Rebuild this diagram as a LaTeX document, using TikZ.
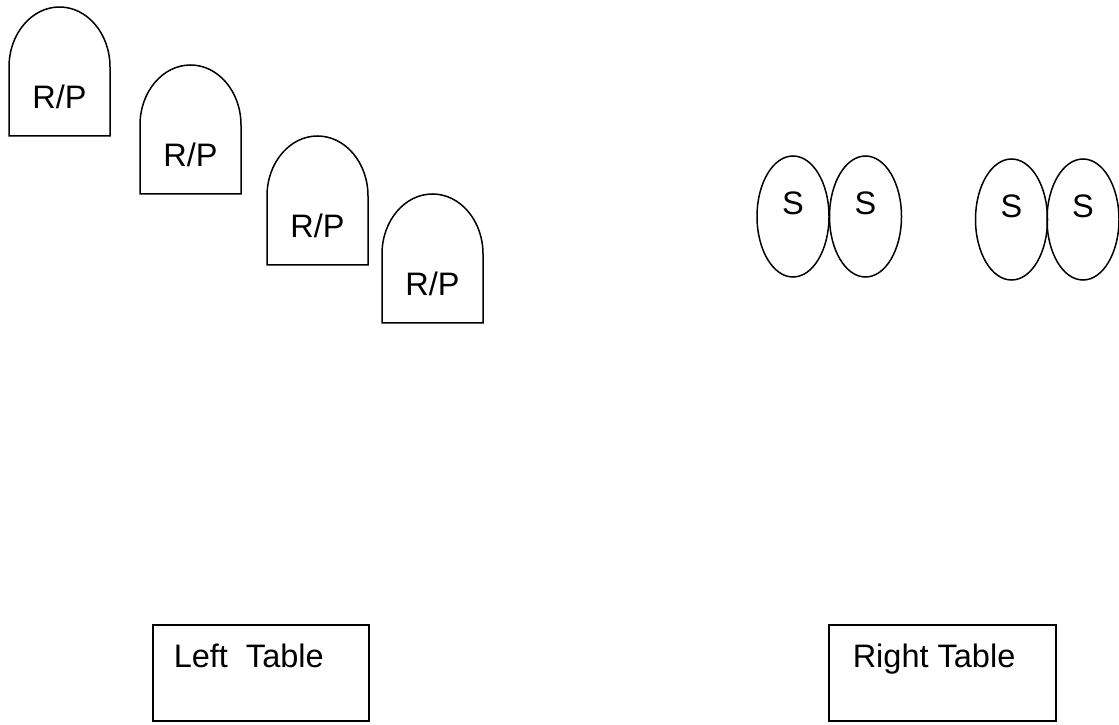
\documentclass[tikz,border=0pt]{standalone}
\usepackage{fontspec}
\setmainfont{Liberation Sans}
\usetikzlibrary{shapes.geometric}

\begin{document}
\begin{tikzpicture}[x=1pt, y=1pt, line width=1.5pt,
  lbl/.style={font=\fontsize{32.5}{39}\selectfont, inner sep=0pt},
  seat/.style={draw, ellipse, minimum width=72pt, minimum height=121pt, inner sep=0pt},
  table/.style={draw, rectangle, minimum width=#1, minimum height=96pt, inner sep=0pt}]
\useasboundingbox (0,0) rectangle (1119,724);
\foreach \x/\y/\n in {9/588/1, 140/530/2, 267/459/3, 382/401/4}{
\draw (\x,\y) -- (\x,\y+69) arc[start angle=180, end angle=0, x radius=50.5, y radius=60] -- (\x+101,\y) -- cycle;
\node[lbl] (rp\n) at (\x+50.5,\y+39) {R/P};
}
\foreach \x/\y/\n in {793/507.5/1, 865.5/507.5/2, 1011.5/504.5/3, 1083/504.5/4}{
\node[seat] (s\n) at (\x,\y) {};
\node[lbl] (st\n) at ([yshift=13pt]s\n.center) {S};
}
\node[table=216pt] (lt) at (261,51) {};
\node[lbl, anchor=base west] (ltl) at (173,57) {Left\ \ Table};
\node[table=227pt] (rt) at (942.5,51) {};
\node[lbl, anchor=base west] (rtl) at (852,57) {Right Table};
\end{tikzpicture}
\end{document}
